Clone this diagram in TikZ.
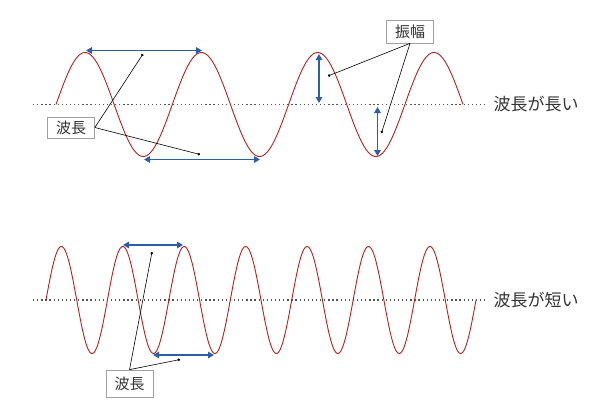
\documentclass[tikz,border=0pt]{standalone}
\usepackage{fontspec}
\setmainfont{Noto Sans CJK JP}
\usetikzlibrary{arrows.meta}
\definecolor{wavered}{HTML}{B22222}
\definecolor{arrblue}{HTML}{2E5EAA}
\definecolor{boxgray}{HTML}{A0A0A0}
\definecolor{dotgray}{HTML}{555555}
\tikzset{
  wave/.style={draw=wavered, line width=0.9pt},
  midline/.style={draw=dotgray, line width=1.3pt, dash pattern=on 1.3pt off 2.8pt},
  dimarrow/.style={draw=arrblue, line width=1.8pt, {Triangle[length=6pt,width=6.5pt]}-{Triangle[length=6pt,width=6.5pt]}},
  labelbox/.style={draw=boxgray, fill=white, line width=0.7pt, inner sep=0pt, minimum width=47pt, font=\fontsize{15}{16}\selectfont, text=black!80},
  pointer/.style={draw=black, line width=0.6pt, -{Circle[length=2.5pt]}},
  sidetext/.style={anchor=west, font=\fontsize{17}{18}\selectfont, text=black!80}
}
\begin{document}
\begin{tikzpicture}[x=1pt,y=-1pt]
\useasboundingbox (0,0) rectangle (592,413);
% ---------- top: long wavelength ----------
\coordinate (m1a) at (33,104.5);
\coordinate (m1b) at (486,104.5);
\draw[midline] (m1a) -- (m1b);
\draw[wave] plot[domain=56:463, samples=300] (\x, {104.5 - 52*sin((\x-56)/116.3*360)});
\node[sidetext] (t1) at (490,104.5) {波長が長い};
% wavelength arrows
\coordinate (w1a) at (86,50.5);
\coordinate (w1b) at (202,50.5);
\draw[dimarrow] (w1a) -- (w1b);
\coordinate (w2a) at (144,159.5);
\coordinate (w2b) at (260,159.5);
\draw[dimarrow] (w2a) -- (w2b);
% amplitude arrows
\coordinate (a1a) at (319,54);
\coordinate (a1b) at (319,103);
\draw[dimarrow] (a1a) -- (a1b);
\coordinate (a2a) at (377.5,107);
\coordinate (a2b) at (377.5,156);
\draw[dimarrow] (a2a) -- (a2b);
% labels
\node[labelbox, minimum height=21pt] (L1) at (71,127.5) {波長};
\coordinate (p1) at (143,54);
\coordinate (p2) at (200,154.5);
\draw[pointer] (L1.east) -- (p1);
\draw[pointer] (L1.east) -- (p2);
\node[labelbox, minimum height=23pt] (L2) at (410,31.5) {振幅};
\coordinate (p3) at (328,76);
\coordinate (p4) at (381.5,133);
\draw[pointer] (L2.south) -- (p3);
\draw[pointer] (L2.south) -- (p4);
% ---------- bottom: short wavelength ----------
\coordinate (m2a) at (33,300);
\coordinate (m2b) at (486,300);
\draw[midline] (m2a) -- (m2b);
\draw[wave] plot[domain=46:476, samples=500] (\x, {300 - 53.5*sin((\x-46)/61.43*360)});
\node[sidetext] (t2) at (490,300) {波長が短い};
\coordinate (w3a) at (123,245);
\coordinate (w3b) at (183,245);
\draw[dimarrow] (w3a) -- (w3b);
\coordinate (w4a) at (153,355);
\coordinate (w4b) at (214,355);
\draw[dimarrow] (w4a) -- (w4b);
\node[labelbox, minimum height=27pt] (L3) at (129.5,383.5) {波長};
\coordinate (p5) at (152,252);
\coordinate (p6) at (180,359.5);
\draw[pointer] (L3.north) -- (p5);
\draw[pointer] (L3.north) -- (p6);
\end{tikzpicture}
\end{document}
